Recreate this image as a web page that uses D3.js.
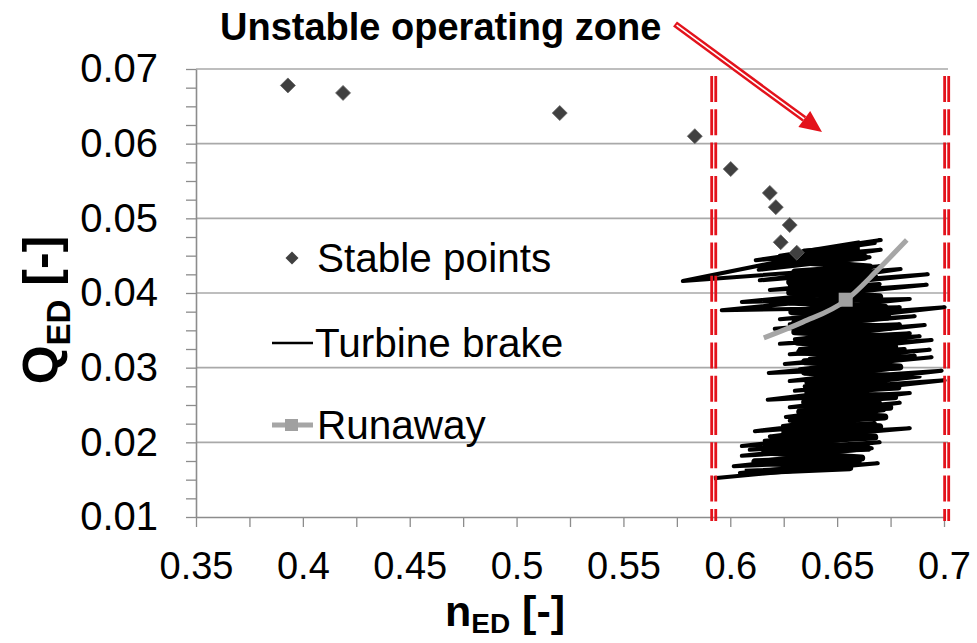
<!DOCTYPE html>
<html><head><meta charset="utf-8">
<script src="https://cdn.jsdelivr.net/npm/d3@7/dist/d3.min.js"></script>
<style>
html,body{margin:0;padding:0;background:#fff;}
svg text{font-family:"Liberation Sans",Arial,sans-serif;}
</style></head>
<body>
<svg id="c" width="977" height="643"></svg>
<script>
// ---- data ----
const xTicks = [0.35, 0.4, 0.45, 0.5, 0.55, 0.6, 0.65, 0.7];
const xTickLabels = ["0.35", "0.4", "0.45", "0.5", "0.55", "0.6", "0.65", "0.7"];
const xMinorTicks = [0.375, 0.425, 0.475, 0.525, 0.575, 0.625, 0.675];
const yTicks = [0.01, 0.02, 0.03, 0.04, 0.05, 0.06, 0.07];
const yTickLabels = ["0.01", "0.02", "0.03", "0.04", "0.05", "0.06", "0.07"];
const yMinorTicks = [0.0125, 0.015, 0.0175, 0.0225, 0.025, 0.0275, 0.0325, 0.035, 0.0375,
  0.0425, 0.045, 0.0475, 0.0525, 0.055, 0.0575, 0.0625, 0.065, 0.0675];

// Stable points
const stableN = [0.393, 0.4188, 0.5202, 0.5834, 0.6002, 0.6185, 0.6213, 0.6278, 0.6236, 0.6311];
const stableQ = [0.0678, 0.0668, 0.0641, 0.0610, 0.0566, 0.0534, 0.0515, 0.0491, 0.0468, 0.0454];

// Turbine brake trajectory, outer strokes (n, Q)
const brakeN = [
  0.5923, 0.6690, 0.6045, 0.6606, 0.6016, 0.6536, 0.6138, 0.6662, 0.6054, 0.6699,
  0.6091, 0.6643, 0.6054, 0.6582, 0.6161, 0.6840, 0.6185, 0.6676, 0.6115, 0.6718,
  0.6246, 0.6652, 0.6278, 0.6718, 0.6260, 0.6793, 0.6325, 0.6699, 0.6278, 0.6840,
  0.6175, 0.6699, 0.6325, 0.7003, 0.6302, 0.6886, 0.6348, 0.6989, 0.6278, 0.6793,
  0.6180, 0.6942, 0.6325, 0.6863, 0.6255, 0.6933, 0.6372, 0.6816, 0.6278, 0.6942,
  0.6325, 0.6886, 0.6232, 0.6840, 0.6302, 0.6910, 0.6372, 0.6793, 0.6208, 0.6863,
  0.6278, 0.7003, 0.6232, 0.6793, 0.5960, 0.6652, 0.6325, 0.6840, 0.6054, 0.6746,
  0.6255, 0.6919, 0.6325, 0.6699, 0.6185, 0.6924, 0.6278, 0.6797, 0.6138, 0.6699,
  0.5778, 0.6606, 0.6133, 0.6652, 0.6185, 0.6704, 0.6119, 0.6676, 0.6232, 0.6704,
  0.6325, 0.6606
];
const brakeQ = [
  0.0152, 0.0172, 0.0159, 0.0175, 0.0168, 0.0184, 0.0175, 0.0192, 0.0182, 0.0200,
  0.0190, 0.0207, 0.0195, 0.0213, 0.0202, 0.0219, 0.0208, 0.0226, 0.0215, 0.0235,
  0.0222, 0.0237, 0.0229, 0.0243, 0.0234, 0.0253, 0.0241, 0.0254, 0.0247, 0.0266,
  0.0257, 0.0275, 0.0262, 0.0283, 0.0269, 0.0288, 0.0275, 0.0296, 0.0282, 0.0300,
  0.0293, 0.0314, 0.0298, 0.0316, 0.0305, 0.0324, 0.0312, 0.0325, 0.0318, 0.0337,
  0.0325, 0.0342, 0.0332, 0.0346, 0.0338, 0.0357, 0.0345, 0.0358, 0.0352, 0.0369,
  0.0358, 0.0381, 0.0365, 0.0381, 0.0377, 0.0396, 0.0377, 0.0392, 0.0388, 0.0407,
  0.0392, 0.0411, 0.0399, 0.0412, 0.0404, 0.0425, 0.0411, 0.0432, 0.0417, 0.0436,
  0.0416, 0.0464, 0.0431, 0.0448, 0.0436, 0.0458, 0.0444, 0.0467, 0.0450, 0.0471,
  0.0455, 0.0468
];
// Turbine brake trajectory, dense core (n, Q)
const coreN = [
  0.6068, 0.6559, 0.6115, 0.6615, 0.6161, 0.6643, 0.6208, 0.6676, 0.6255, 0.6699,
  0.6302, 0.6723, 0.6325, 0.6746, 0.6348, 0.6769, 0.6363, 0.6784, 0.6363, 0.6793,
  0.6348, 0.6793, 0.6348, 0.6784, 0.6325, 0.6769, 0.6316, 0.6755, 0.6302, 0.6746,
  0.6302, 0.6737, 0.6288, 0.6723, 0.6278, 0.6699, 0.6278, 0.6690, 0.6278, 0.6676,
  0.6302, 0.6652, 0.6325, 0.6629, 0.6348, 0.6606
];
const coreQ = [
  0.0160, 0.0166, 0.0174, 0.0179, 0.0187, 0.0192, 0.0200, 0.0207, 0.0214, 0.0221,
  0.0227, 0.0234, 0.0241, 0.0247, 0.0254, 0.0261, 0.0267, 0.0274, 0.0281, 0.0288,
  0.0294, 0.0301, 0.0308, 0.0314, 0.0321, 0.0328, 0.0334, 0.0341, 0.0348, 0.0354,
  0.0361, 0.0368, 0.0375, 0.0381, 0.0388, 0.0395, 0.0401, 0.0408, 0.0415, 0.0421,
  0.0428, 0.0435, 0.0442, 0.0448, 0.0455, 0.0460
];

// Runaway curve
const runawayN = [0.6157, 0.6339, 0.6535, 0.6690, 0.6826];
const runawayQ = [0.0340, 0.0361, 0.0389, 0.0431, 0.0471];
const runawayMarkerN = [0.6540];
const runawayMarkerQ = [0.0391];

// Unstable zone boundaries (double dashed red lines)
const zoneLines = [0.5913, 0.5932, 0.7003, 0.7022];

const legendLabels = ["Stable points", "Turbine brake", "Runaway"];
const titleText = "Unstable operating zone";

// ---- drawing ----
const svg = d3.select("#c");
const x = d3.scaleLinear().domain([0.35, 0.7]).range([196, 944]);
const y = d3.scaleLinear().domain([0.01, 0.07]).range([517, 69]);

const gridColor = "#a9a9a9";
const axisColor = "#8c8c8c";

// gridlines
svg.append("g").selectAll("line").data(yTicks.slice(1)).join("line")
  .attr("x1", x(0.35)).attr("x2", x(0.7) + 4)
  .attr("y1", d => y(d)).attr("y2", d => y(d))
  .attr("stroke", gridColor).attr("stroke-width", 1.6);

// x axis
const xAxis = svg.append("g").attr("transform", `translate(0,${y(0.01)})`)
  .call(d3.axisBottom(x).tickValues(xTicks.concat(xMinorTicks)).tickSize(10).tickSizeOuter(0).tickPadding(25)
    .tickFormat(d => { const i = xTicks.indexOf(d); return i >= 0 ? xTickLabels[i] : ""; }));
xAxis.select(".domain").attr("stroke", axisColor).attr("stroke-width", 1.6);
xAxis.selectAll(".tick line").attr("stroke", axisColor).attr("stroke-width", 1.3);
xAxis.selectAll("text").attr("font-size", 38).attr("fill", "#000")
  .attr("font-family", "Liberation Sans, Arial, sans-serif");

// y axis
const yAxis = svg.append("g").attr("transform", `translate(${x(0.35)},0)`)
  .call(d3.axisLeft(y).tickValues(yTicks.concat(yMinorTicks)).tickSize(10).tickSizeOuter(0).tickPadding(28)
    .tickFormat(d => { const i = yTicks.findIndex(t => Math.abs(t - d) < 1e-9); return i >= 0 ? yTickLabels[i] : ""; }));
yAxis.select(".domain").attr("stroke", axisColor).attr("stroke-width", 1.6);
yAxis.selectAll(".tick line").attr("stroke", axisColor).attr("stroke-width", 1.3);
yAxis.selectAll("text").attr("font-size", 40).attr("fill", "#000")
  .attr("font-family", "Liberation Sans, Arial, sans-serif");

// turbine brake trajectory
const lineGen = d3.line().x(d => x(d[0])).y(d => y(d[1]));
const brakePts = brakeN.map((n, i) => [n, brakeQ[i]]);
const corePts = coreN.map((n, i) => [n, coreQ[i]]);
svg.append("path").datum(corePts)
  .attr("d", lineGen)
  .attr("fill", "none").attr("stroke", "#000").attr("stroke-width", 7)
  .attr("stroke-linejoin", "round");
svg.append("path").datum(brakePts)
  .attr("d", lineGen)
  .attr("fill", "none").attr("stroke", "#000").attr("stroke-width", 4)
  .attr("stroke-linejoin", "round");

// runaway curve
const runPts = runawayN.map((n, i) => [n, runawayQ[i]]);
svg.append("path").datum(runPts)
  .attr("d", d3.line().curve(d3.curveMonotoneX).x(d => x(d[0])).y(d => y(d[1])))
  .attr("fill", "none").attr("stroke", "#a6a6a6").attr("stroke-width", 5);
svg.append("g").selectAll("rect").data(runawayMarkerN).join("rect")
  .attr("x", (d) => x(d) - 7).attr("y", (d, i) => y(runawayMarkerQ[i]) - 7)
  .attr("width", 14).attr("height", 14).attr("fill", "#a0a0a0");

// stable diamonds
const diamond = (cx, cy, r) => `M${cx},${cy - r}L${cx + r},${cy}L${cx},${cy + r}L${cx - r},${cy}Z`;
svg.append("g").selectAll("path").data(stableN).join("path")
  .attr("d", (d, i) => diamond(x(d), y(stableQ[i]), 7.5))
  .attr("fill", "#404040").attr("stroke", "#666").attr("stroke-width", 0.8);

// red dashed zone lines
svg.append("g").selectAll("line").data(zoneLines).join("line")
  .attr("x1", d => x(d)).attr("x2", d => x(d))
  .attr("y1", 76).attr("y2", 521)
  .attr("stroke", "#e3121b").attr("stroke-width", 2.8)
  .attr("stroke-dasharray", "26,7.3");

// arrow
const ax1 = 675, ay1 = 24, ax2 = 822, ay2 = 132;
const ang = Math.atan2(ay2 - ay1, ax2 - ax1);
const headL = 22, headW = 10;
const bx = ax2 - headL * Math.cos(ang), by = ay2 - headL * Math.sin(ang);
svg.append("line").attr("x1", ax1).attr("y1", ay1).attr("x2", bx).attr("y2", by)
  .attr("stroke", "#e3121b").attr("stroke-width", 6.5);
svg.append("line").attr("x1", ax1 + 2 * Math.cos(ang)).attr("y1", ay1 + 2 * Math.sin(ang))
  .attr("x2", bx).attr("y2", by)
  .attr("stroke", "#fff").attr("stroke-width", 1.6);
svg.append("path")
  .attr("d", `M${ax2},${ay2}L${bx - headW * Math.sin(ang)},${by + headW * Math.cos(ang)}L${bx + headW * Math.sin(ang)},${by - headW * Math.cos(ang)}Z`)
  .attr("fill", "#e3121b");

// title annotation
svg.append("text").attr("x", 220).attr("y", 40).attr("font-size", 38).attr("font-weight", "bold")
  .attr("fill", "#000").text(titleText);

// legend
svg.append("path").attr("d", diamond(292, 258, 6.5)).attr("fill", "#404040");
svg.append("text").attr("x", 317).attr("y", 272).attr("font-size", 40.5).attr("fill", "#000").text(legendLabels[0]);
svg.append("line").attr("x1", 272).attr("x2", 313).attr("y1", 343).attr("y2", 343)
  .attr("stroke", "#000").attr("stroke-width", 2.5);
svg.append("text").attr("x", 315).attr("y", 357).attr("font-size", 40.5).attr("fill", "#000").text(legendLabels[1]);
svg.append("line").attr("x1", 272).attr("x2", 313).attr("y1", 425).attr("y2", 425)
  .attr("stroke", "#a6a6a6").attr("stroke-width", 5);
svg.append("rect").attr("x", 285).attr("y", 419).attr("width", 13).attr("height", 12).attr("fill", "#a0a0a0");
svg.append("text").attr("x", 317).attr("y", 439).attr("font-size", 40.5).attr("fill", "#000").text(legendLabels[2]);

// axis titles
const xt = svg.append("text").attr("x", 505).attr("y", 626).attr("text-anchor", "middle")
  .attr("font-weight", "bold").attr("font-size", 43).attr("fill", "#000");
xt.append("tspan").text("n");
xt.append("tspan").attr("font-size", 28).attr("dy", 7).text("ED");
xt.append("tspan").attr("dy", -7).text(" [-]");

const yt = svg.append("text").attr("transform", "translate(58,310) rotate(-90)").attr("text-anchor", "middle")
  .attr("font-weight", "bold").attr("font-size", 50).attr("fill", "#000");
yt.append("tspan").text("Q");
yt.append("tspan").attr("font-size", 33).attr("dy", 12).text("ED");
yt.append("tspan").attr("dy", -12).text(" [-]");
</script>
</body></html>
